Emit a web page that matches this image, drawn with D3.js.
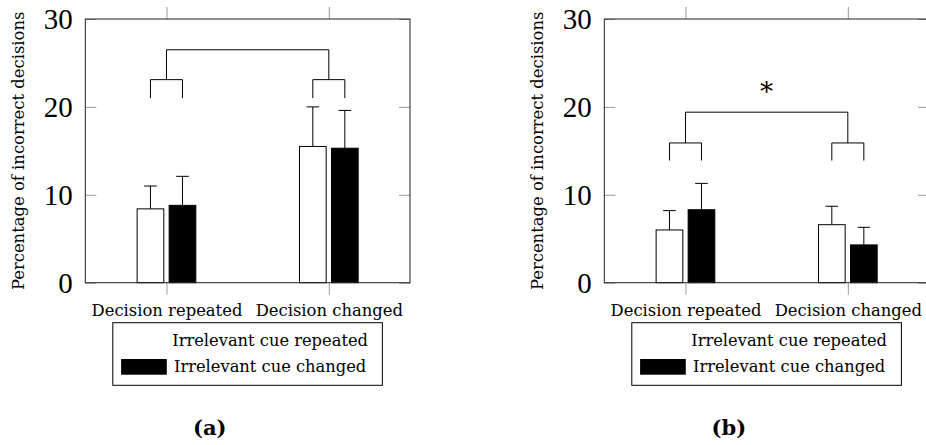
<!DOCTYPE html>
<html>
<head>
<meta charset="utf-8">
<script src="https://cdn.jsdelivr.net/npm/d3@7"></script>
<style>
  body { margin: 0; background: #fff; }
</style>
</head>
<body>
<svg id="chart" width="926" height="445"></svg>
<script>
// data
const categories = ["Decision repeated", "Decision changed"];
const series = ["Irrelevant cue repeated", "Irrelevant cue changed"];
const yTickValues = [0, 10, 20, 30];

const aCueRepeated = [8.4, 15.5];
const aCueRepeatedErr = [2.6, 4.5];
const aCueChanged = [8.8, 15.3];
const aCueChangedErr = [3.3, 4.3];
const aBracket = [21, 23.1, 26.5];   // leg bottom, inner bar, outer bar
const aStar = "";

const bCueRepeated = [6.0, 6.6];
const bCueRepeatedErr = [2.2, 2.1];
const bCueChanged = [8.3, 4.3];
const bCueChangedErr = [3.0, 2.0];
const bBracket = [13.9, 15.9, 19.4];
const bStar = "\u2217";
const bStarY = 22.4;

const W = 324.7, TOP = 19, BOTTOM = 282.7;
const SERIF = "'DejaVu Serif', 'Liberation Serif', serif";
const svg = d3.select("#chart");

function drawPanel(left, repeated, repeatedErr, changed, changedErr, bracket, star, starY, caption){
  const g = svg.append("g").attr("transform", "translate(" + left + ",0)");
  const x = d3.scalePoint().domain(categories).range([0, W]).padding(0.5);
  const x1 = d3.scaleBand().domain(series).range([-29.35, 29.35]).paddingInner(1/6);
  const y = d3.scaleLinear().domain([0, 30]).range([BOTTOM, TOP]);
  const color = d3.scaleOrdinal().domain(series).range(["#fff", "#000"]);

  // axes
  const yl = g.append("g").call(d3.axisLeft(y).tickValues(yTickValues).tickSize(-11).tickPadding(12.5));
  yl.selectAll("text").style("font-family", "'Liberation Serif', serif").style("font-size", "29px").attr("dy", "0.33em");
  g.append("g").attr("transform", "translate(" + W + ",0)")
    .call(d3.axisRight(y).tickValues(yTickValues).tickSize(-11).tickFormat(""));
  g.append("g").attr("transform", "translate(0," + TOP + ")")
    .call(d3.axisTop(x).tickSize(12).tickFormat(""));
  const xb = g.append("g").attr("transform", "translate(0," + BOTTOM + ")")
    .call(d3.axisBottom(x).tickSize(12).tickPadding(9.2));
  xb.selectAll("text").style("font-family", SERIF).style("font-size", "16.4px");
  g.selectAll(".domain").remove();
  g.selectAll(".tick line").attr("stroke", "#999");

  // bars
  const rows = categories.map((c, i) => [
    {cat: c, s: series[0], v: repeated[i], e: repeatedErr[i]},
    {cat: c, s: series[1], v: changed[i], e: changedErr[i]}
  ]).flat();
  g.selectAll("rect.bar").data(rows).enter().append("rect")
    .attr("class", "bar")
    .attr("x", d => x(d.cat) + x1(d.s))
    .attr("width", x1.bandwidth())
    .attr("y", d => y(d.v))
    .attr("height", d => y(0) - y(d.v))
    .attr("fill", d => color(d.s))
    .attr("stroke", "#000").attr("stroke-width", 1);
  const cx = d => x(d.cat) + x1(d.s) + x1.bandwidth()/2;
  g.selectAll("line.err").data(rows).enter().append("line")
    .attr("x1", cx).attr("x2", cx)
    .attr("y1", d => y(d.v)).attr("y2", d => y(d.v + d.e))
    .attr("stroke", "#000");
  g.selectAll("line.cap").data(rows).enter().append("line")
    .attr("x1", d => cx(d) - 6.3).attr("x2", d => cx(d) + 6.3)
    .attr("y1", d => y(d.v + d.e)).attr("y2", d => y(d.v + d.e))
    .attr("stroke", "#000");

  // comparison brackets
  const path = d3.path();
  categories.forEach(c => {
    const l = x(c) + x1(series[0]) + x1.bandwidth()/2;
    const r = x(c) + x1(series[1]) + x1.bandwidth()/2;
    path.moveTo(l, y(bracket[0])); path.lineTo(l, y(bracket[1]));
    path.lineTo(r, y(bracket[1])); path.lineTo(r, y(bracket[0]));
  });
  path.moveTo(x(categories[0]), y(bracket[1])); path.lineTo(x(categories[0]), y(bracket[2]));
  path.lineTo(x(categories[1]), y(bracket[2])); path.lineTo(x(categories[1]), y(bracket[1]));
  g.append("path").attr("d", path.toString()).attr("fill", "none").attr("stroke", "#000");
  if (star) {
    g.append("text").attr("x", (x(categories[0]) + x(categories[1]))/2).attr("y", y(starY))
      .attr("text-anchor", "middle").attr("dy", "0.35em")
      .style("font-family", SERIF).style("font-size", "26px").text(star);
  }

  // frame
  g.append("rect").attr("x", 0).attr("y", TOP).attr("width", W).attr("height", BOTTOM - TOP)
    .attr("fill", "none").attr("stroke", "#222");

  // y label
  g.append("text").attr("transform", "translate(-61.5," + (TOP + BOTTOM)/2 + ") rotate(-90)")
    .attr("text-anchor", "middle").style("font-family", SERIF).style("font-size", "16.4px")
    .text("Percentage of incorrect decisions");

  // legend
  const lg = g.append("g").attr("transform", "translate(27.5,322.7)");
  lg.append("rect").attr("width", 269.6).attr("height", 62.6).attr("fill", "#fff").attr("stroke", "#000");
  series.forEach((s, i) => {
    lg.append("rect").attr("x", 8.3).attr("y", 10.3 + i * 26).attr("width", 45.7).attr("height", 15.7)
      .attr("fill", color(s));
    lg.append("text").attr("x", 157.3).attr("y", 23 + i * 26).attr("text-anchor", "middle")
      .style("font-family", SERIF).style("font-size", "16.3px").text(s);
  });

  g.append("text").attr("x", 124.5).attr("y", 435).attr("text-anchor", "middle")
    .style("font-family", SERIF).style("font-size", "21px").style("font-weight", "bold").text(caption);
}

drawPanel(85.3, aCueRepeated, aCueRepeatedErr, aCueChanged, aCueChangedErr, aBracket, aStar, 0, "(a)");
drawPanel(604.3, bCueRepeated, bCueRepeatedErr, bCueChanged, bCueChangedErr, bBracket, bStar, bStarY, "(b)");
</script>
</body>
</html>
